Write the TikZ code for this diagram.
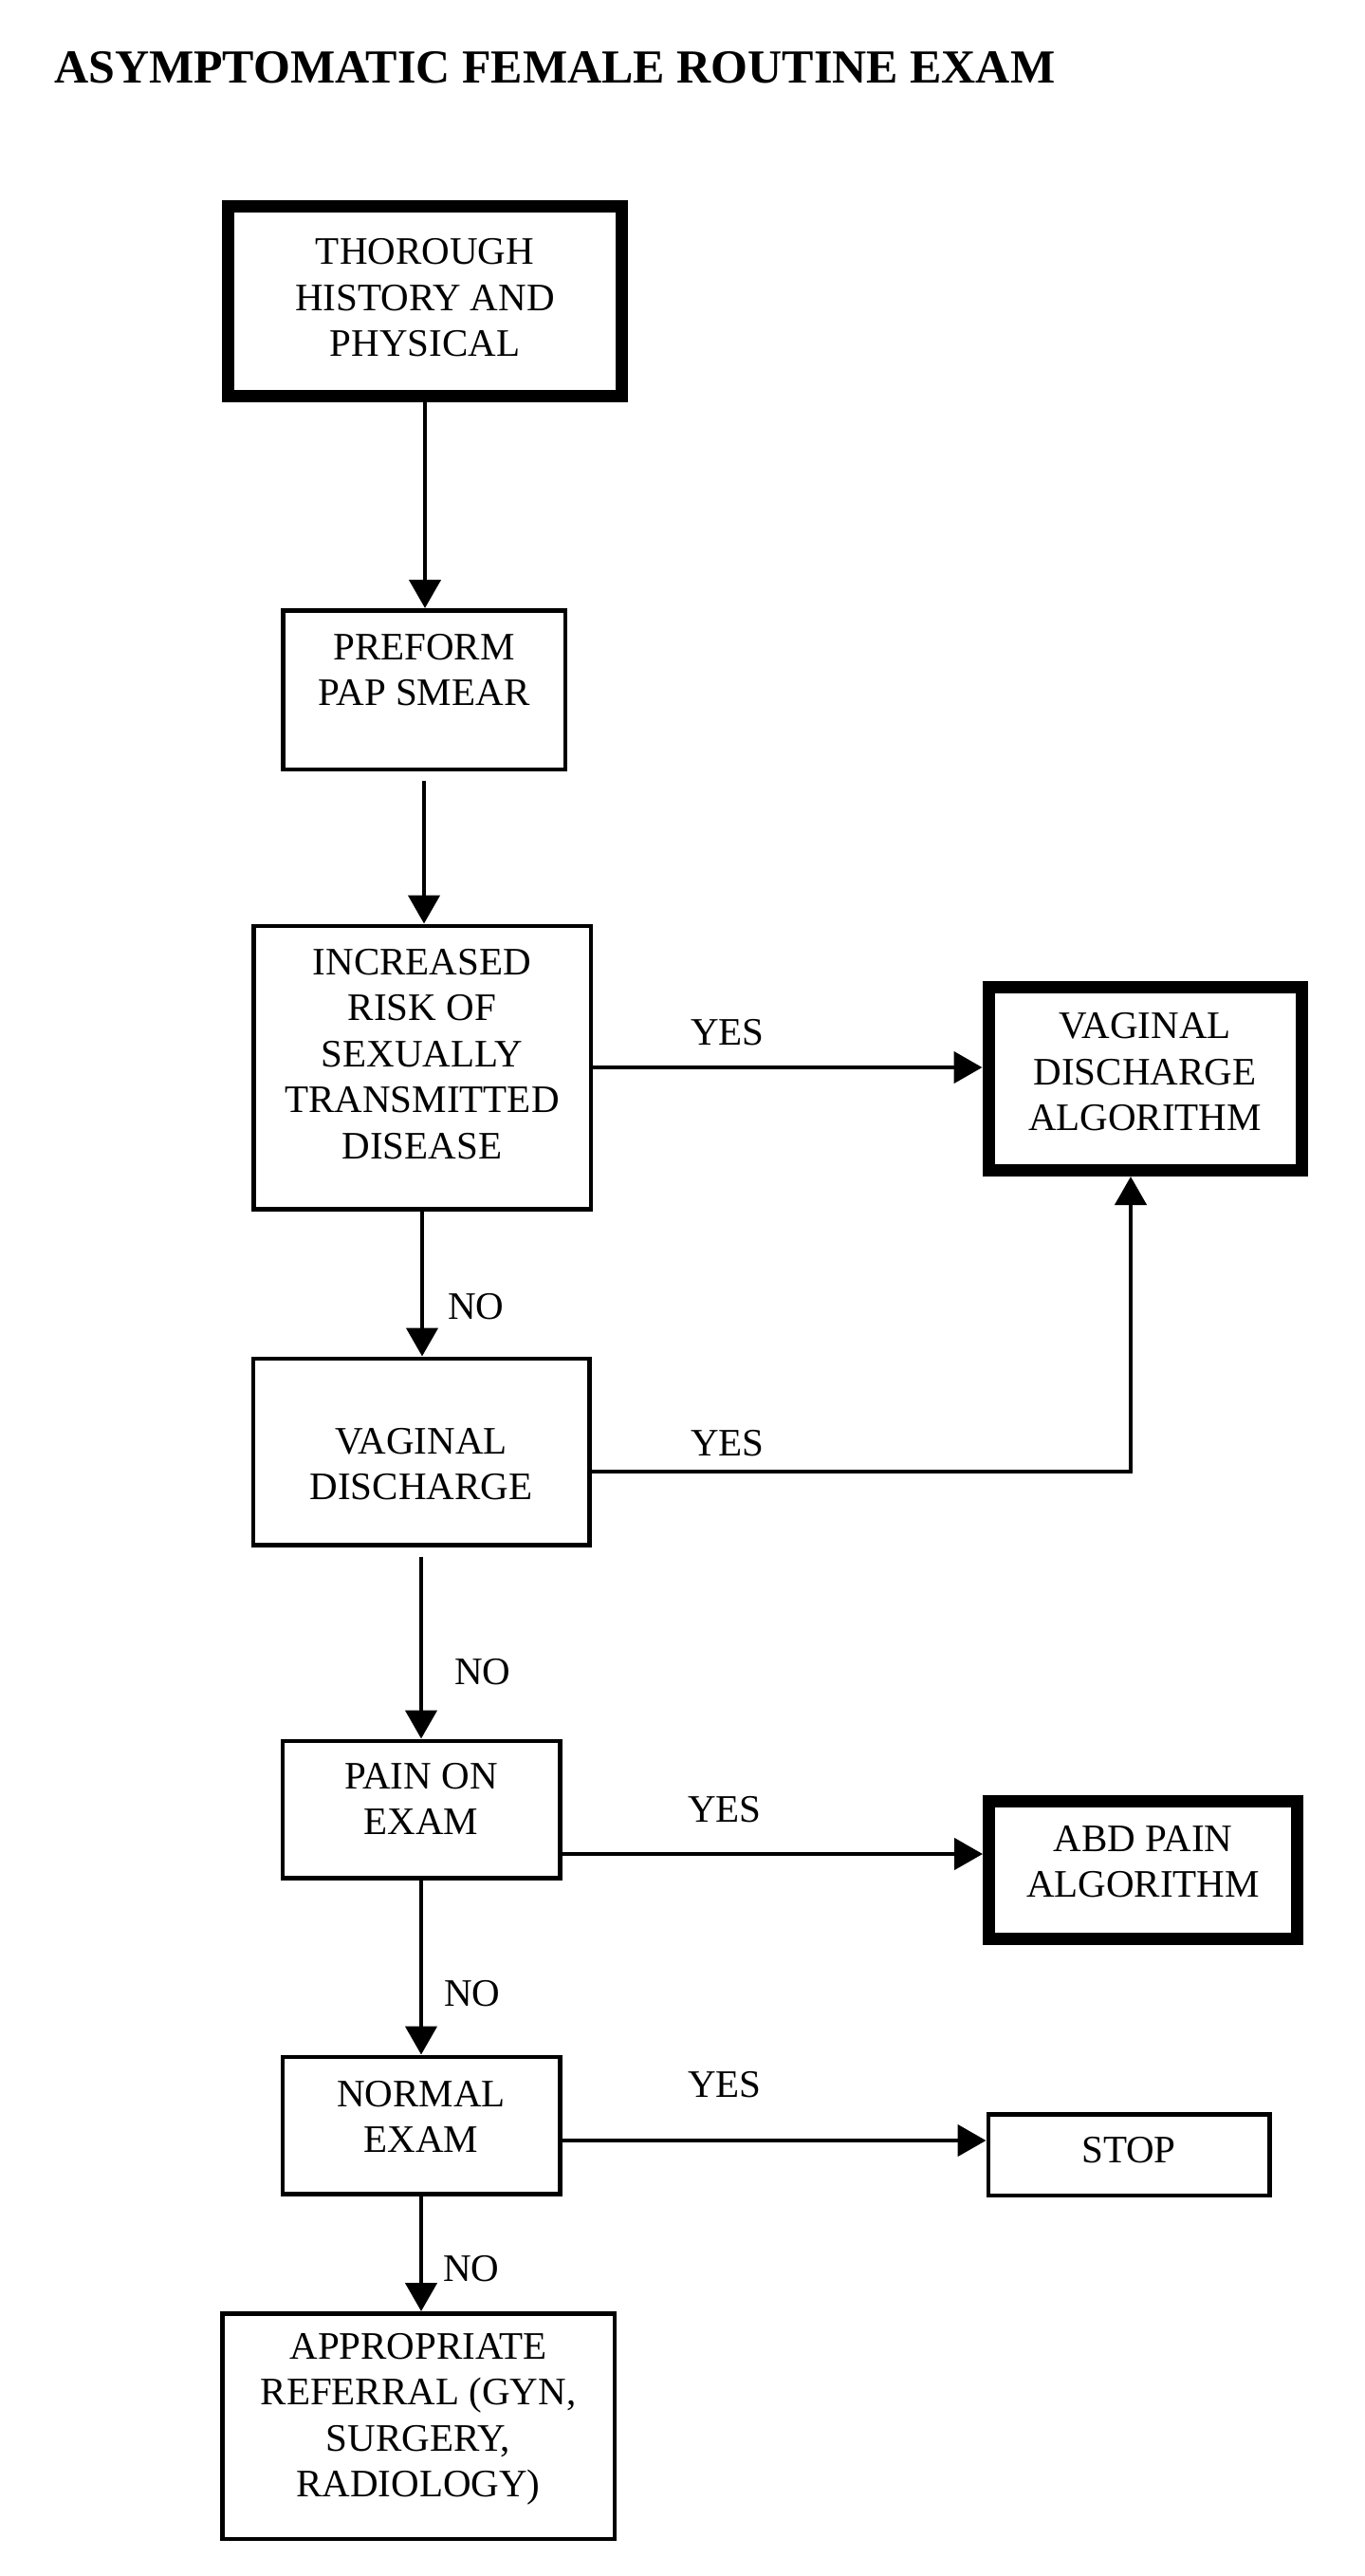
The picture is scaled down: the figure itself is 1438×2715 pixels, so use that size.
\documentclass[tikz,border=0pt]{standalone}
\usepackage{fontspec}
\setmainfont{Liberation Serif}
\usetikzlibrary{arrows.meta}
\begin{document}
\begin{tikzpicture}[x=1pt,y=-1pt,
  box/.style={draw, line width=4.5pt, inner sep=0pt, outer sep=0.5\pgflinewidth},
  thickbox/.style={box, line width=13pt},
  txt/.style={align=center, inner sep=0pt, font=\fontsize{41}{48.5}\selectfont},
  lbl/.style={inner sep=0pt, font=\fontsize{41}{48.5}\selectfont},
  conn/.style={line width=4.5pt, -{Triangle[length=30pt,width=33pt]}}]
\useasboundingbox (0,0) rectangle (1438,2715);
\fill[white] (0,0) rectangle (1438,2715);

\node[anchor=base west, inner sep=0pt, font=\fontsize{50}{58}\selectfont\bfseries] (title) at (57,87) {ASYMPTOMATIC FEMALE ROUTINE EXAM};

% boxes
\node[thickbox, minimum width=415pt, minimum height=200pt] (hp) at (448,317.5) {};
\node[txt] (hpT) at (448,314) {THOROUGH\\HISTORY AND\\PHYSICAL};

\node[box, minimum width=297.5pt, minimum height=167.5pt] (pap) at (447,727) {};
\node[txt] (papT) at (447,706) {PREFORM\\PAP SMEAR};

\node[box, minimum width=355.5pt, minimum height=298.5pt] (risk) at (445,1125) {};
\node[txt] (riskT) at (445,1111) {INCREASED\\RISK OF\\SEXUALLY\\TRANSMITTED\\DISEASE};

\node[thickbox, minimum width=330pt, minimum height=193pt] (vagalg) at (1207,1137) {};
\node[txt] (vagalgT) at (1207,1130) {VAGINAL\\DISCHARGE\\ALGORITHM};

\node[box, minimum width=354.5pt, minimum height=196.5pt] (vag) at (444,1530) {};
\node[txt] (vagT) at (444,1543) {VAGINAL\\DISCHARGE};

\node[box, minimum width=292.5pt, minimum height=144.5pt] (pain) at (444,1907) {};
\node[txt] (painT) at (444,1896) {PAIN ON\\EXAM};

\node[thickbox, minimum width=325pt, minimum height=145pt] (abd) at (1205,1971) {};
\node[txt] (abdT) at (1205,1962) {ABD PAIN\\ALGORITHM};

\node[box, minimum width=292.5pt, minimum height=144.5pt] (norm) at (444,2240) {};
\node[txt] (normT) at (444,2231) {NORMAL\\EXAM};

\node[box, minimum width=296.5pt, minimum height=85.5pt] (stop) at (1190,2271) {};
\node[txt] (stopT) at (1190,2266) {STOP};

\node[box, minimum width=413.5pt, minimum height=237.5pt] (ref) at (441,2557) {};
\node[txt] (refT) at (441,2550) {APPROPRIATE\\REFERRAL (GYN,\\SURGERY,\\RADIOLOGY)};

% vertical connectors
\draw[conn] (hp.south) -- (hp.south |- pap.north);
\draw[conn, shorten <=10pt] (pap.south) -- (pap.south |- risk.north);
\draw[conn] (risk.south) -- (risk.south |- vag.north);
\draw[conn, shorten <=10pt] (vag.south) -- (vag.south |- pain.north);
\draw[conn] (pain.south) -- (pain.south |- norm.north);
\draw[conn] (norm.south) -- (norm.south |- ref.north);

% horizontal connectors
\draw[conn] (risk.east) -- (risk.east -| vagalg.west);
\coordinate (v4) at ([yshift=-21pt]vag.east);
\coordinate (vup) at ([xshift=-15pt]vagalg.south);
\draw[conn] (v4) -| (vup);
\coordinate (p5) at ([yshift=-47pt]pain.east);
\draw[conn] (p5) -- (p5 -| abd.west);
\coordinate (p6) at ([yshift=-16pt]norm.east);
\draw[conn] (p6) -- (p6 -| stop.west);

% labels
\node[lbl] (yes1) at (767,1088) {YES};
\node[lbl] (no1) at (502,1377) {NO};
\node[lbl] (yes2) at (767,1521) {YES};
\node[lbl] (no2) at (509,1762) {NO};
\node[lbl] (yes3) at (764,1907) {YES};
\node[lbl] (no3) at (498,2101) {NO};
\node[lbl] (yes4) at (764,2197) {YES};
\node[lbl] (no4) at (497,2391) {NO};
\end{tikzpicture}
\end{document}
